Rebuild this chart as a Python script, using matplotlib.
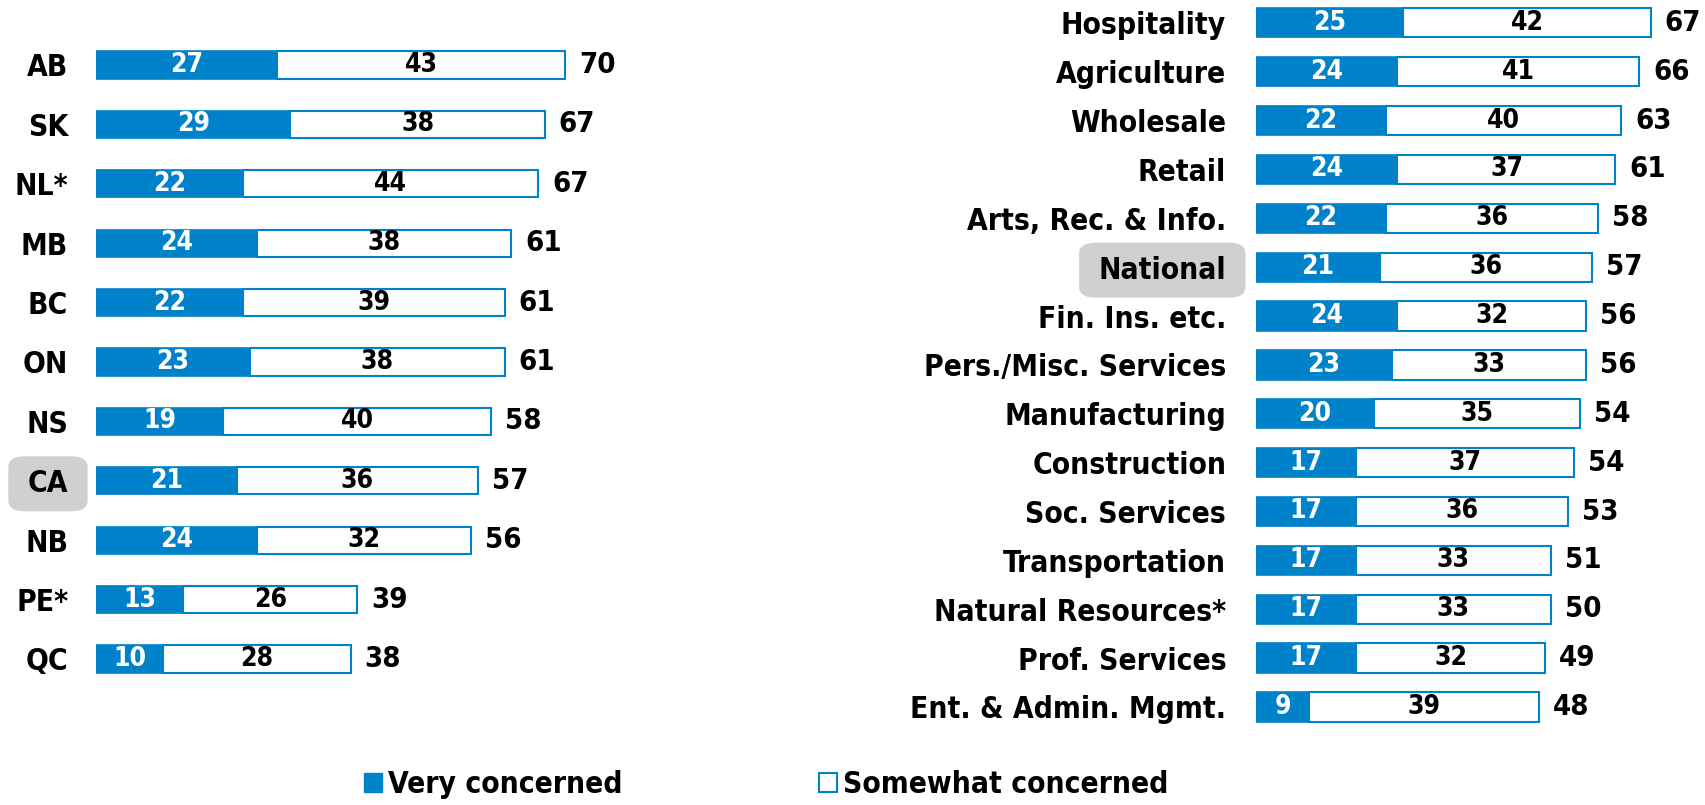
import matplotlib.pyplot as plt
from matplotlib.patches import Patch

plt.rcParams['font.family'] = ['DejaVu Sans']
plt.rcParams['font.stretch'] = 'condensed'
plt.rcParams['font.weight'] = 'bold'

# provinces
prov = ['AB', 'SK', 'NL*', 'MB', 'BC', 'ON', 'NS', 'CA', 'NB', 'PE*', 'QC']
prov_very = [27, 29, 22, 24, 22, 23, 19, 21, 24, 13, 10]
prov_some = [43, 38, 44, 38, 39, 38, 40, 36, 32, 26, 28]
prov_total = [70, 67, 67, 61, 61, 61, 58, 57, 56, 39, 38]

# sectors
sect = ['Hospitality', 'Agriculture', 'Wholesale', 'Retail', 'Arts, Rec. & Info.',
        'National', 'Fin. Ins. etc.', 'Pers./Misc. Services', 'Manufacturing',
        'Construction', 'Soc. Services', 'Transportation', 'Natural Resources*',
        'Prof. Services', 'Ent. & Admin. Mgmt.']
sect_very = [25, 24, 22, 24, 22, 21, 24, 23, 20, 17, 17, 17, 17, 17, 9]
sect_some = [42, 41, 40, 37, 36, 36, 32, 33, 35, 37, 36, 33, 33, 32, 39]
sect_total = [67, 66, 63, 61, 58, 57, 56, 56, 54, 54, 53, 51, 50, 49, 48]

BLUE = '#0082CA'
GREY = '#D0D0D2'

fig = plt.figure(figsize=(17.06, 8.05), dpi=100)

W, H = 1706, 805
ax1 = fig.add_axes([96 / W, 116.3 / H, 603 / W, 653.4 / H])
ax2 = fig.add_axes([1256 / W, 73.6 / H, 442 / W, 733 / H])


def draw_panel(ax, cats, very, some, total, bh, xmax, highlight, lab_pad):
    y = list(range(len(cats)))
    ax.barh(y, very, height=bh, color=BLUE, edgecolor=BLUE, linewidth=1.2)
    ax.barh(y, some, left=very, height=bh, color='white', edgecolor=BLUE, linewidth=1.5)
    for i in y:
        ax.text(very[i] / 2, i, str(very[i]), ha='center', va='center',
                color='white', fontsize=19, fontweight='bold')
        ax.text(very[i] + some[i] / 2, i, str(some[i]), ha='center', va='center',
                color='black', fontsize=19, fontweight='bold')
        ax.annotate(str(total[i]), (very[i] + some[i], i), xytext=(10, 0),
                    textcoords='offset points', ha='left', va='center',
                    fontsize=21, fontweight='bold')
    ax.set_xlim(0, xmax)
    ax.set_ylim(len(cats) - 0.5, -0.5)
    ax.set_yticks(y)
    ax.set_yticklabels(cats, fontsize=21.5, fontweight='bold')
    ax.tick_params(axis='y', length=0, pad=lab_pad)
    ax.set_xticks([])
    for s in ax.spines.values():
        s.set_visible(False)
    # grey rounded box behind the overall row
    for t in ax.get_yticklabels():
        if t.get_text() == highlight:
            t.set_bbox(dict(boxstyle='round,pad=0.65,rounding_size=0.55',
                            fc=GREY, ec='none', mutation_aspect=0.67))


draw_panel(ax1, prov, prov_very, prov_some, prov_total, 0.46, 90, 'CA', 20)
draw_panel(ax2, sect, sect_very, sect_some, sect_total, 0.6, 75, 'National', 21.5)

handles = [Patch(facecolor=BLUE, edgecolor=BLUE, label='Very concerned'),
           Patch(facecolor='white', edgecolor=BLUE, linewidth=1.5, label='Somewhat concerned')]
fig.legend(handles=handles, loc='center', bbox_to_anchor=(0.449, 0.026), ncol=2,
           frameon=False, handlelength=0.6, handleheight=0.6,
           handletextpad=0.2, columnspacing=6.6,
           prop={'weight': 'bold', 'size': 21.5})

fig.savefig('out.png', dpi=100)
